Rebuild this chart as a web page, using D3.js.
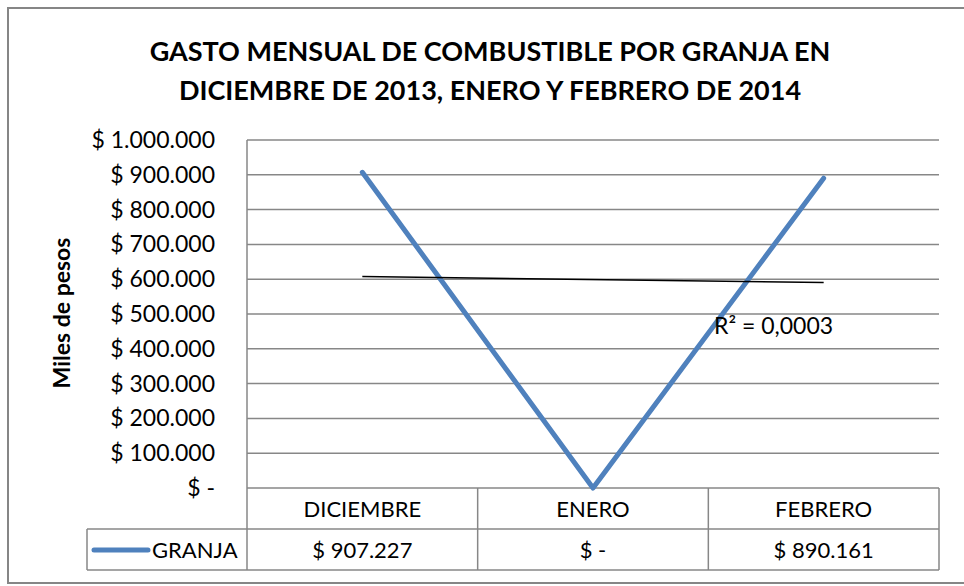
<!DOCTYPE html>
<html>
<head>
<meta charset="utf-8">
<script src="https://cdn.jsdelivr.net/npm/d3@7"></script>
<style>
  body { margin: 0; background: #fff; }
  text { font-family: "Lato", "Open Sans", sans-serif; fill: #000; }
</style>
</head>
<body>
<div class="chart"></div>
<script>
// datos
var categorias = ["DICIEMBRE", "ENERO", "FEBRERO"];
var granja = [907227, 0, 890161];
var serieNombre = "GRANJA";
var yTicks = [0, 100000, 200000, 300000, 400000, 500000, 600000, 700000, 800000, 900000, 1000000];
var titulo = ["GASTO MENSUAL DE COMBUSTIBLE POR GRANJA EN", "DICIEMBRE DE 2013, ENERO Y FEBRERO DE 2014"];

var W = 964, H = 586;
var plot = {left: 247, right: 939, top: 140, bottom: 488};
var rowH = 41;

var loc = d3.formatLocale({decimal: ",", thousands: ".", grouping: [3], currency: ["$ ", ""]});
var fmtPeso = function(v) { return v === 0 ? "$ -" : "$ " + loc.format(",")(v); };

var svg = d3.select(".chart").append("svg")
    .attr("width", W)
    .attr("height", H);

svg.append("rect")
    .attr("x", 8).attr("y", 8)
    .attr("width", W + 10).attr("height", 575)
    .attr("fill", "#fff")
    .attr("stroke", "#868686")
    .attr("stroke-width", 2);

var x = d3.scaleBand()
    .domain(categorias)
    .range([plot.left, plot.right]);

var y = d3.scaleLinear()
    .domain([0, 1000000])
    .range([plot.bottom, plot.top]);

// titulo
svg.append("g").selectAll("text")
    .data(titulo)
    .enter().append("text")
    .attr("x", 490)
    .attr("y", function(d, i) { return 61 + i * 39; })
    .attr("text-anchor", "middle")
    .attr("font-size", "27px")
    .attr("font-weight", "bold")
    .text(function(d) { return d; });

// grid
svg.append("g").selectAll("line")
    .data(yTicks)
    .enter().append("line")
    .attr("x1", plot.left).attr("x2", plot.right)
    .attr("y1", function(d) { return y(d); })
    .attr("y2", function(d) { return y(d); })
    .attr("stroke", "#878787")
    .attr("stroke-width", 1.5);

svg.append("line")
    .attr("x1", plot.left).attr("x2", plot.left)
    .attr("y1", plot.top).attr("y2", plot.bottom)
    .attr("stroke", "#878787")
    .attr("stroke-width", 1.5);

// eje y
svg.append("g").selectAll("text")
    .data(yTicks)
    .enter().append("text")
    .attr("x", 215)
    .attr("y", function(d) { return y(d) + 8; })
    .attr("text-anchor", "end")
    .attr("font-size", "23px")
    .text(fmtPeso);

svg.append("text")
    .attr("transform", "translate(70,313) rotate(-90)")
    .attr("text-anchor", "middle")
    .attr("font-size", "23px")
    .attr("font-weight", "bold")
    .text("Miles de pesos");

// tendencia lineal
var xs = categorias.map(function(d, i) { return i + 1; });
var mx = d3.mean(xs), my = d3.mean(granja);
var b = d3.sum(xs, function(v, i) { return (v - mx) * (granja[i] - my); }) /
        d3.sum(xs, function(v) { return (v - mx) * (v - mx); });
var a = my - b * mx;
var ssRes = d3.sum(xs, function(v, i) { var e = granja[i] - (a + b * v); return e * e; });
var ssTot = d3.sum(granja, function(v) { return (v - my) * (v - my); });
var r2 = 1 - ssRes / ssTot;

var cx = function(d) { return x(d) + x.bandwidth() / 2; };

// serie
svg.append("path")
    .datum(granja)
    .attr("fill", "none")
    .attr("stroke", "#4F81BD")
    .attr("stroke-width", 5)
    .attr("stroke-linecap", "round")
    .attr("stroke-linejoin", "round")
    .attr("d", d3.line()
        .x(function(d, i) { return cx(categorias[i]); })
        .y(function(d) { return y(d); }));

var trend = [categorias[0], categorias[categorias.length - 1]];
svg.append("line")
    .attr("x1", cx(trend[0]))
    .attr("x2", cx(trend[1]))
    .attr("y1", y(a + b * 1))
    .attr("y2", y(a + b * categorias.length))
    .attr("stroke", "#000")
    .attr("stroke-width", 1.5);

svg.append("text")
    .attr("x", 714)
    .attr("y", 334)
    .attr("font-size", "23px")
    .text("R² = " + loc.format(".4f")(r2));

// tabla de datos
var tabla = svg.append("g").attr("class", "tabla");
var gris = "#878787";

categorias.forEach(function(c, i) {
  tabla.append("line")
      .attr("x1", x(c)).attr("x2", x(c))
      .attr("y1", plot.bottom).attr("y2", plot.bottom + 2 * rowH)
      .attr("stroke", gris).attr("stroke-width", 1.5);
  tabla.append("text")
      .attr("x", cx(c))
      .attr("y", plot.bottom + 29)
      .attr("text-anchor", "middle")
      .attr("font-size", "22px")
      .text(c);
  tabla.append("text")
      .attr("x", cx(c))
      .attr("y", plot.bottom + rowH + 29)
      .attr("text-anchor", "middle")
      .attr("font-size", "22px")
      .text(fmtPeso(granja[i]));
});

tabla.append("line")
    .attr("x1", plot.right).attr("x2", plot.right)
    .attr("y1", plot.bottom).attr("y2", plot.bottom + 2 * rowH)
    .attr("stroke", gris).attr("stroke-width", 1.5);

tabla.append("line")
    .attr("x1", 87).attr("x2", 87)
    .attr("y1", plot.bottom + rowH).attr("y2", plot.bottom + 2 * rowH)
    .attr("stroke", gris).attr("stroke-width", 1.5);

[plot.bottom + rowH, plot.bottom + 2 * rowH].forEach(function(yy) {
  tabla.append("line")
      .attr("x1", 87).attr("x2", plot.right)
      .attr("y1", yy).attr("y2", yy)
      .attr("stroke", gris).attr("stroke-width", 1.5);
});

tabla.append("line")
    .attr("x1", 94).attr("x2", 148)
    .attr("y1", plot.bottom + rowH + 21)
    .attr("y2", plot.bottom + rowH + 21)
    .attr("stroke", "#4F81BD")
    .attr("stroke-width", 5)
    .attr("stroke-linecap", "round");

tabla.append("text")
    .attr("x", 152)
    .attr("y", plot.bottom + rowH + 29)
    .attr("font-size", "22px")
    .text(serieNombre);
</script>
</body>
</html>
